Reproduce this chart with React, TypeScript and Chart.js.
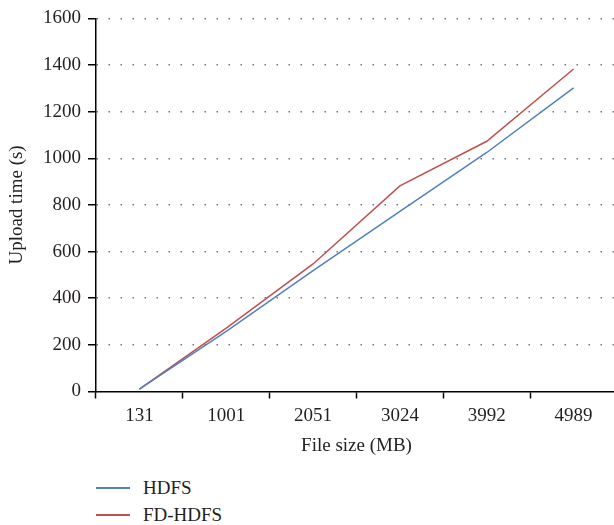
import React, { useEffect, useRef } from "react";
import { Chart, registerables } from "chart.js";

Chart.register(...registerables);

const categories = ["131", "1001", "2051", "3024", "3992", "4989"];
const hdfsValues = [10, 258, 518, 772, 1025, 1302];
const fdHdfsValues = [10, 272, 547, 882, 1073, 1383];
const seriesNames = ["HDFS", "FD-HDFS"];
const seriesColors = ["#4F81BD", "#C0504D"];
const yMin = 0;
const yMax = 1600;
const yStep = 200;

const FONT = "'Liberation Serif', 'Times New Roman', serif";
const TEXT = "#231f20";

Chart.defaults.font.family = FONT;
Chart.defaults.color = TEXT;

export default function App() {
  const canvasRef = useRef<HTMLCanvasElement | null>(null);

  useEffect(() => {
    const canvas = canvasRef.current;
    if (!canvas) return;
    const chart = new Chart(canvas, {
      type: "line",
      data: {
        labels: categories,
        datasets: [
          {
            label: seriesNames[0],
            data: hdfsValues,
            borderColor: seriesColors[0],
            backgroundColor: seriesColors[0],
            borderWidth: 1.5,
            pointRadius: 0,
            tension: 0,
          },
          {
            label: seriesNames[1],
            data: fdHdfsValues,
            borderColor: seriesColors[1],
            backgroundColor: seriesColors[1],
            borderWidth: 1.5,
            pointRadius: 0,
            tension: 0,
          },
        ],
      },
      options: {
        responsive: false,
        animation: false,
        devicePixelRatio: 1,
        layout: { autoPadding: false, padding: { top: 15, right: 5, left: 0, bottom: 0 } },
        plugins: {
          legend: { display: false },
          tooltip: { enabled: false },
        },
        scales: {
          x: {
            type: "category",
            offset: true,
            grid: {
              display: true,
              offset: true,
              drawOnChartArea: false,
              drawTicks: true,
              tickLength: 7,
              tickColor: "#000",
              tickWidth: 1.5,
              color: "#000",
            },
            border: { display: true, color: "#000", width: 1.5 },
            ticks: {
              color: TEXT,
              font: { family: FONT, size: 19 },
              maxRotation: 0,
              autoSkip: false,
              padding: 6,
            },
            title: {
              display: true,
              text: "File size (MB)",
              color: TEXT,
              font: { family: FONT, size: 19 },
              padding: { top: 4, bottom: 13 },
            },
            afterFit: (scale: any) => {
              scale.height = 78.5;
            },
          },
          y: {
            min: yMin,
            max: yMax,
            ticks: {
              stepSize: yStep,
              color: TEXT,
              font: { family: FONT, size: 19 },
              padding: 7,
              callback: (value: any) => String(value),
            },
            grid: {
              display: true,
              drawOnChartArea: true,
              drawTicks: true,
              tickLength: 8,
              tickColor: "#000",
              tickWidth: 1.5,
              lineWidth: 1.5,
              color: (ctx: any) => (ctx.tick && ctx.tick.value === 0 ? "rgba(0,0,0,0)" : "#777"),
            },
            border: { display: true, color: "#000", width: 1.5, dash: [1.5, 10.5] },
            title: {
              display: true,
              text: "Upload time (s)",
              color: TEXT,
              font: { family: FONT, size: 19 },
              padding: { top: 6, bottom: 0 },
            },
            afterFit: (scale: any) => {
              scale.width = 96;
            },
          },
        },
      },
    });
    return () => {
      chart.destroy();
    };
  }, []);

  const legendRow = (name: string, color: string, top: number) => (
    <div key={name} style={{ position: "absolute", left: 0, top, height: 24, width: 300 }}>
      <div
        style={{
          position: "absolute",
          left: 96,
          top: 11,
          width: 34,
          height: 1.5,
          background: color,
        }}
      />
      <div
        style={{
          position: "absolute",
          left: 143,
          top: 0,
          lineHeight: "24px",
          fontFamily: FONT,
          fontSize: 19,
          color: TEXT,
          whiteSpace: "nowrap",
        }}
      >
        {name}
      </div>
    </div>
  );

  return (
    <div
      style={{
        position: "absolute",
        left: 0,
        top: 0,
        width: 614,
        height: 525,
        overflow: "hidden",
        background: "#fff",
      }}
    >
      <canvas
        ref={canvasRef}
        width={622}
        height={470}
        style={{ position: "absolute", left: 0, top: 0, width: 622, height: 470 }}
      />
      {legendRow(seriesNames[0], seriesColors[0], 476)}
      {legendRow(seriesNames[1], seriesColors[1], 503)}
    </div>
  );
}
